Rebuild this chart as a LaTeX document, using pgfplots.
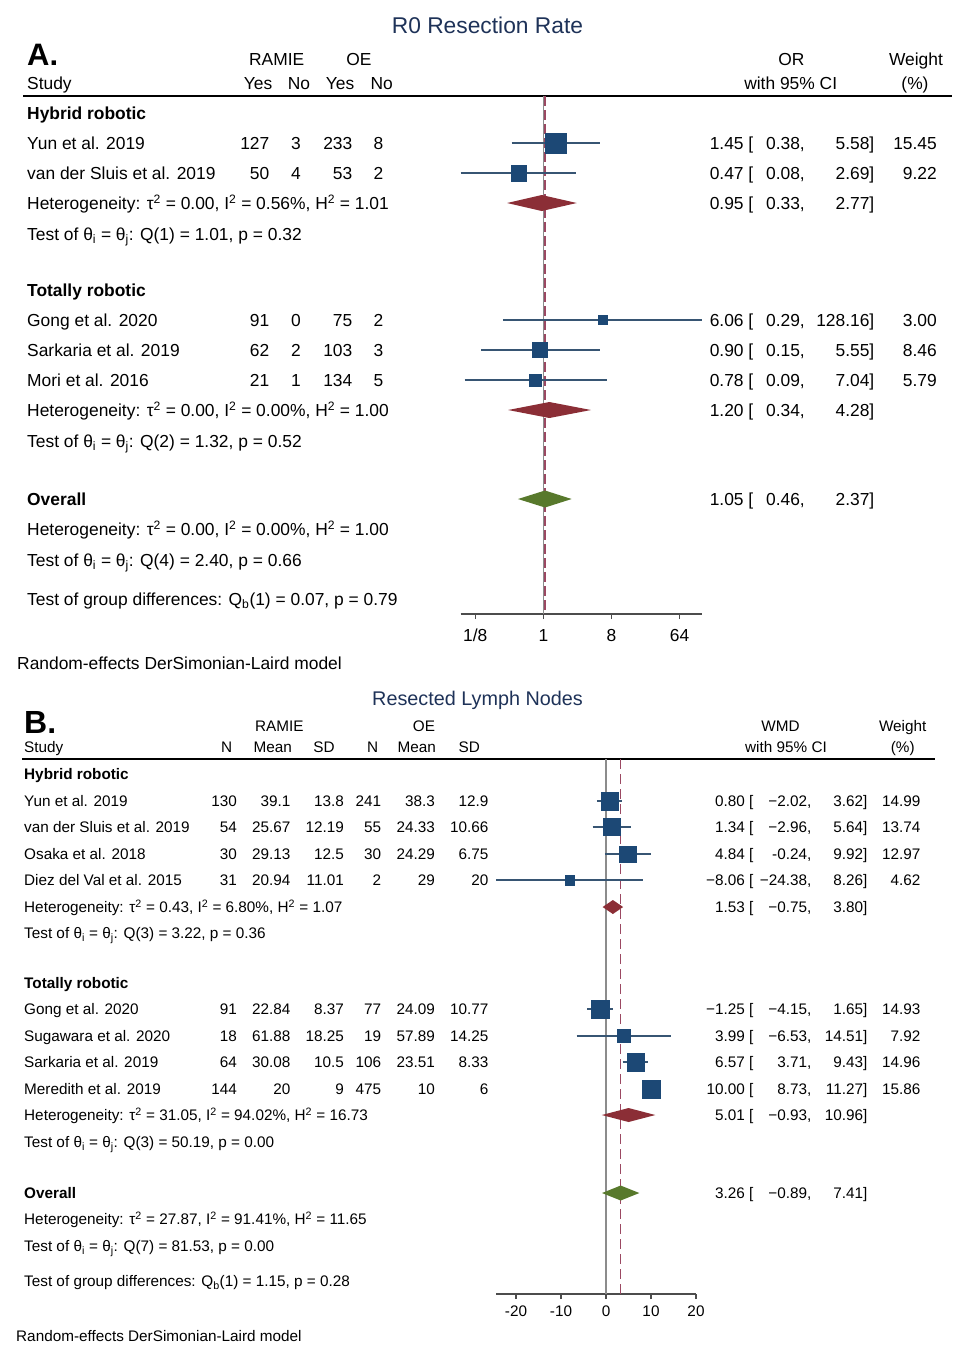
\documentclass[border=0pt]{standalone}
\usepackage{pgfplots}
\pgfplotsset{compat=1.18}
\usepackage{pgfplotstable}
\usepackage{fontspec}
\setmainfont{Liberation Sans}

\definecolor{sqblue}{RGB}{28,72,117}
\definecolor{ciblue}{RGB}{55,85,115}
\definecolor{dred}{RGB}{139,46,54}
\definecolor{dgreen}{RGB}{88,121,44}
\definecolor{dashred}{RGB}{155,72,98}
\definecolor{titleblue}{RGB}{30,50,88}
\definecolor{nullgray}{RGB}{140,140,140}

\newcommand\fA{\fontsize{17.4}{20}\selectfont}
\newcommand\fB{\fontsize{15.3}{18}\selectfont}
\newcommand\sq{\textsuperscript{2}}
\newcommand\sub[1]{\textsubscript{#1}}

% one study row of panel A: baseline, name, RAMIE yes/no, OE yes/no
\newcommand\studyA[6]{%
  \node[L] at (27,#1) {#2};
  \node[R] at (269.5,#1) {#3};
  \node[R] at (301,#1) {#4};
  \node[R] at (352.5,#1) {#5};
  \node[R] at (383.5,#1) {#6};}
% estimate columns of panel A: baseline, OR, lower, upper, weight
\newcommand\ciA[5]{%
  \node[R] at (753.5,#1) {#2 [};
  \node[R] at (805,#1) {#3,};
  \node[R] at (874.5,#1) {#4]};
  \node[R] at (937,#1) {#5};}
% panel B
\newcommand\studyB[8]{%
  \node[L] at (24,#1) {#2};
  \node[R] at (237,#1) {#3};
  \node[R] at (290.5,#1) {#4};
  \node[R] at (344,#1) {#5};
  \node[R] at (381.3,#1) {#6};
  \node[R] at (435,#1) {#7};
  \node[R] at (488.5,#1) {#8};}
\newcommand\ciB[5]{%
  \node[R] at (753.5,#1) {#2 [};
  \node[R] at (811.5,#1) {#3,};
  \node[R] at (867.5,#1) {#4]};
  \node[R] at (920.5,#1) {#5};}

% row = vertical position (px from top), or = odds ratio, 95% CI, weight
\pgfplotstableread{
row  or    lo    hi      w
143  1.45  0.38  5.58    15.45
173  0.47  0.08  2.69    9.22
320  6.06  0.29  128.16  3.00
350  0.90  0.15  5.55    8.46
380  0.78  0.09  7.04    5.79
}\studiesA

\pgfplotstableread{
row   wmd     lo      hi     w
801   0.80   -2.02    3.62   14.99
827   1.34   -2.96    5.64   13.74
854   4.84   -0.24    9.92   12.97
880  -8.06  -24.38    8.26    4.62
1009 -1.25   -4.15    1.65   14.93
1036  3.99   -6.53   14.51    7.92
1062  6.57    3.71    9.43   14.96
1089 10.00    8.73   11.27   15.86
}\studiesB

\pgfplotsset{
  forest/.style={
    scale only axis, anchor=center, clip=false,
    y dir=reverse,
    axis x line*=bottom, axis y line=none, ytick=\empty,
    x axis line style={-, line width=1.2pt, black!70},
    tick align=outside, major tick length=5pt,
    tick style={line width=1.2pt, black!70},
    minor xtick={},
  },
}

\begin{document}
\begin{tikzpicture}
\begin{scope}[x=1pt, y=-1pt,
  L/.style={anchor=base west, inner sep=0pt},
  R/.style={anchor=base east, inner sep=0pt},
  C/.style={anchor=base, inner sep=0pt}]
\path (0,0) rectangle (957,1361);

% ---------------- panel A text
\begin{scope}[font=\fA]
\node[C, text=titleblue, font=\fontsize{22.8}{26}\selectfont] at (487.5,33.3) {R0 Resection Rate};
\node[L, font=\fontsize{31}{34}\selectfont\bfseries] at (27,65) {A.};
\node[C] at (276.7,65) {RAMIE};
\node[C] at (359,65) {OE};
\node[C] at (791.5,65) {OR};
\node[C] at (916,65) {Weight};
\node[L] at (27,89.5) {Study};
\node[C] at (258,89.5) {Yes};
\node[C] at (299,89.5) {No};
\node[C] at (340,89.5) {Yes};
\node[C] at (381.7,89.5) {No};
\node[C] at (790.7,89.5) {with 95\% CI};
\node[C] at (915,89.5) {(\%)};
\draw[line width=1.5pt] (23,96) -- (952.3,96);

\node[L, font=\fA\bfseries] at (27,119.3) {Hybrid robotic};
\studyA{149.3}{Yun et al. 2019}{127}{3}{233}{8}
\ciA{149.3}{1.45}{0.38}{5.58}{15.45}
\studyA{179.3}{van der Sluis et al. 2019}{50}{4}{53}{2}
\ciA{179.3}{0.47}{0.08}{2.69}{9.22}
\node[L] at (27,209.3) {Heterogeneity: τ\sq{} = 0.00, I\sq{} = 0.56\%, H\sq{} = 1.01};
\ciA{209.3}{0.95}{0.33}{2.77}{}
\node[L] at (27,240.3) {Test of θ\sub{i} = θ\sub{j}: Q(1) = 1.01, p = 0.32};

\node[L, font=\fA\bfseries] at (27,296.3) {Totally robotic};
\studyA{326.3}{Gong et al. 2020}{91}{0}{75}{2}
\ciA{326.3}{6.06}{0.29}{128.16}{3.00}
\studyA{356.3}{Sarkaria et al. 2019}{62}{2}{103}{3}
\ciA{356.3}{0.90}{0.15}{5.55}{8.46}
\studyA{386.3}{Mori et al. 2016}{21}{1}{134}{5}
\ciA{386.3}{0.78}{0.09}{7.04}{5.79}
\node[L] at (27,416.3) {Heterogeneity: τ\sq{} = 0.00, I\sq{} = 0.00\%, H\sq{} = 1.00};
\ciA{416.3}{1.20}{0.34}{4.28}{}
\node[L] at (27,447.3) {Test of θ\sub{i} = θ\sub{j}: Q(2) = 1.32, p = 0.52};

\node[L, font=\fA\bfseries] at (27,505.3) {Overall};
\ciA{505.3}{1.05}{0.46}{2.37}{}
\node[L] at (27,535.3) {Heterogeneity: τ\sq{} = 0.00, I\sq{} = 0.00\%, H\sq{} = 1.00};
\node[L] at (27,566.3) {Test of θ\sub{i} = θ\sub{j}: Q(4) = 2.40, p = 0.66};
\node[L] at (27,605.3) {Test of group differences: Q\sub{b}(1) = 0.07, p = 0.79};
\node[L] at (17,669.3) {Random-effects DerSimonian-Laird model};
\end{scope}

% ---------------- panel B text
\begin{scope}[font=\fB]
\node[C, text=titleblue, font=\fontsize{19.8}{23}\selectfont] at (477.5,705) {Resected Lymph Nodes};
\node[L, font=\fontsize{32}{35}\selectfont\bfseries] at (24,733) {B.};
\node[C] at (279.3,731.5) {RAMIE};
\node[C] at (424,731.5) {OE};
\node[C] at (780.5,731.5) {WMD};
\node[C] at (902.7,731.5) {Weight};
\node[L] at (24,752.5) {Study};
\node[C] at (226.7,752.5) {N};
\node[C] at (272.7,752.5) {Mean};
\node[C] at (324,752.5) {SD};
\node[C] at (372.7,752.5) {N};
\node[C] at (416.7,752.5) {Mean};
\node[C] at (469.3,752.5) {SD};
\node[C] at (786,752.5) {with 95\% CI};
\node[C] at (902.7,752.5) {(\%)};
\draw[line width=1.5pt] (22,759) -- (934.5,759);

\node[L, font=\fB\bfseries] at (24,779.5) {Hybrid robotic};
\studyB{806.5}{Yun et al. 2019}{130}{39.1}{13.8}{241}{38.3}{12.9}
\ciB{806.5}{0.80}{−2.02}{3.62}{14.99}
\studyB{832.5}{van der Sluis et al. 2019}{54}{25.67}{12.19}{55}{24.33}{10.66}
\ciB{832.5}{1.34}{−2.96}{5.64}{13.74}
\studyB{859.5}{Osaka et al. 2018}{30}{29.13}{12.5}{30}{24.29}{6.75}
\ciB{859.5}{4.84}{-0.24}{9.92}{12.97}
\studyB{885.5}{Diez del Val et al. 2015}{31}{20.94}{11.01}{2}{29}{20}
\ciB{885.5}{−8.06}{−24.38}{8.26}{4.62}
\node[L] at (24,912.5) {Heterogeneity: τ\sq{} = 0.43, I\sq{} = 6.80\%, H\sq{} = 1.07};
\ciB{912.5}{1.53}{−0.75}{3.80}{}
\node[L] at (24,938.5) {Test of θ\sub{i} = θ\sub{j}: Q(3) = 3.22, p = 0.36};

\node[L, font=\fB\bfseries] at (24,988.5) {Totally robotic};
\studyB{1014.5}{Gong et al. 2020}{91}{22.84}{8.37}{77}{24.09}{10.77}
\ciB{1014.5}{−1.25}{−4.15}{1.65}{14.93}
\studyB{1041.5}{Sugawara et al. 2020}{18}{61.88}{18.25}{19}{57.89}{14.25}
\ciB{1041.5}{3.99}{−6.53}{14.51}{7.92}
\studyB{1067.5}{Sarkaria et al. 2019}{64}{30.08}{10.5}{106}{23.51}{8.33}
\ciB{1067.5}{6.57}{3.71}{9.43}{14.96}
\studyB{1094.5}{Meredith et al. 2019}{144}{20}{9}{475}{10}{6}
\ciB{1094.5}{10.00}{8.73}{11.27}{15.86}
\node[L] at (24,1120.5) {Heterogeneity: τ\sq{} = 31.05, I\sq{} = 94.02\%, H\sq{} = 16.73};
\ciB{1120.5}{5.01}{−0.93}{10.96}{}
\node[L] at (24,1147.5) {Test of θ\sub{i} = θ\sub{j}: Q(3) = 50.19, p = 0.00};

\node[L, font=\fB\bfseries] at (24,1198.5) {Overall};
\ciB{1198.5}{3.26}{−0.89}{7.41}{}
\node[L] at (24,1224.5) {Heterogeneity: τ\sq{} = 27.87, I\sq{} = 91.41\%, H\sq{} = 11.65};
\node[L] at (24,1251.5) {Test of θ\sub{i} = θ\sub{j}: Q(7) = 81.53, p = 0.00};
\node[L] at (24,1286.5) {Test of group differences: Q\sub{b}(1) = 1.15, p = 0.28};
\node[L] at (16,1341.5) {Random-effects DerSimonian-Laird model};
\end{scope}
\end{scope}

% ---------------- panel A plot
\begin{axis}[forest,
  at={(581.5pt,-355pt)}, width=241.6pt, height=518pt,
  xmode=log, log basis x=2,
  xmin=0.08, xmax=128.16, ymin=96, ymax=614,
  xtick={0.125,1,8,64}, xticklabels={1/8,1,8,64},
  xticklabel style={font=\fA, anchor=base, yshift=-22.5pt},
]
\addplot[nullgray, line width=1.5pt] coordinates {(1,96) (1,614)};
\addplot[dashred, line width=2pt, dash pattern=on 10pt off 4pt] coordinates {(1.05,96) (1.05,614)};
\addplot[ciblue, line width=1.2pt] coordinates {(0.38,143) (5.58,143)};
\addplot[ciblue, line width=1.2pt] coordinates {(0.08,173) (2.69,173)};
\addplot[ciblue, line width=1.2pt] coordinates {(0.29,320) (128.16,320)};
\addplot[ciblue, line width=1.2pt] coordinates {(0.15,350) (5.55,350)};
\addplot[ciblue, line width=1.2pt] coordinates {(0.09,380) (7.04,380)};
\addplot[scatter, only marks, mark=square*,
  scatter/use mapped color={draw=sqblue, fill=sqblue},
  visualization depends on={2.6*sqrt(\thisrow{w}) \as \msize},
  scatter/@pre marker code/.append style={/tikz/mark size=\msize}]
  table[x=or, y=row] {\studiesA};
\addplot[fill=dred, draw=none] coordinates {(0.33,203) (0.95,195) (2.77,203) (0.95,211) (0.33,203)};
\addplot[fill=dred, draw=none] coordinates {(0.34,410) (1.20,402) (4.28,410) (1.20,418) (0.34,410)};
\addplot[fill=dgreen, draw=none] coordinates {(0.46,499) (1.05,490.5) (2.37,499) (1.05,507.5) (0.46,499)};
\end{axis}

% ---------------- panel B plot
\begin{axis}[forest,
  at={(596.15pt,-1026.5pt)}, width=199.7pt, height=535pt,
  xmin=-24.38, xmax=20, ymin=759, ymax=1294,
  xtick={-20,-10,0,10,20}, xticklabels={-20,-10,0,10,20},
  xticklabel style={font=\fB, anchor=base, yshift=-17.5pt},
]
\addplot[nullgray, line width=1.5pt] coordinates {(0,759) (0,1294)};
\addplot[dashred, line width=1.3pt, dash pattern=on 10pt off 5pt] coordinates {(3.26,759) (3.26,1294)};
\addplot[ciblue, line width=1.2pt] coordinates {(-2.02,801) (3.62,801)};
\addplot[ciblue, line width=1.2pt] coordinates {(-2.96,827) (5.64,827)};
\addplot[ciblue, line width=1.2pt] coordinates {(-0.24,854) (9.92,854)};
\addplot[ciblue, line width=1.2pt] coordinates {(-24.38,880) (8.26,880)};
\addplot[ciblue, line width=1.2pt] coordinates {(-4.15,1009) (1.65,1009)};
\addplot[ciblue, line width=1.2pt] coordinates {(-6.53,1036) (14.51,1036)};
\addplot[ciblue, line width=1.2pt] coordinates {(3.71,1062) (9.43,1062)};
\addplot[ciblue, line width=1.2pt] coordinates {(8.73,1089) (11.27,1089)};
\addplot[scatter, only marks, mark=square*,
  scatter/use mapped color={draw=sqblue, fill=sqblue},
  visualization depends on={2.25*sqrt(\thisrow{w}) \as \msize},
  scatter/@pre marker code/.append style={/tikz/mark size=\msize}]
  table[x=wmd, y=row] {\studiesB};
\addplot[fill=dred, draw=none] coordinates {(-0.75,907) (1.53,900) (3.80,907) (1.53,914) (-0.75,907)};
\addplot[fill=dred, draw=none] coordinates {(-0.93,1115) (5.01,1108) (10.96,1115) (5.01,1122) (-0.93,1115)};
\addplot[fill=dgreen, draw=none] coordinates {(-0.89,1193) (3.26,1185.5) (7.41,1193) (3.26,1200.5) (-0.89,1193)};
\end{axis}
\end{tikzpicture}
\end{document}
